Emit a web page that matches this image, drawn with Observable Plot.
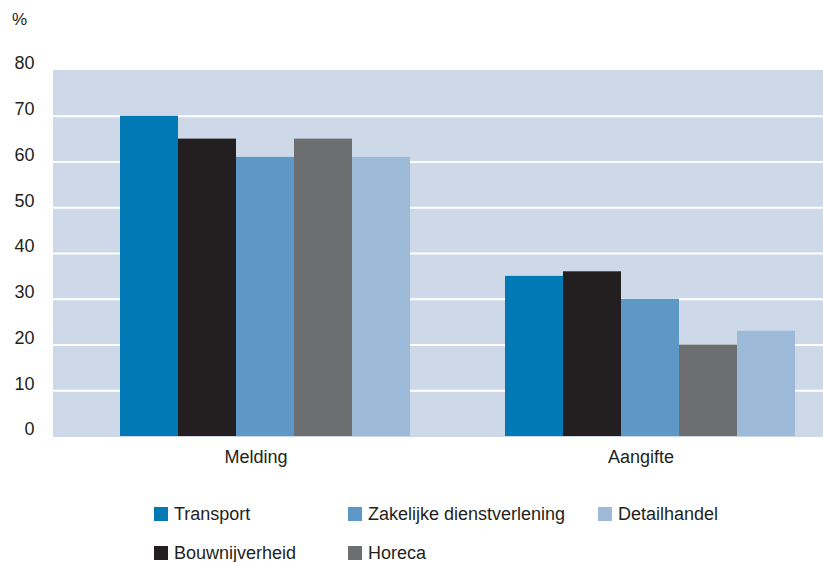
<!DOCTYPE html>
<html>
<head>
<meta charset="utf-8">
<script src="https://cdn.jsdelivr.net/npm/d3@7"></script>
<script src="https://cdn.jsdelivr.net/npm/@observablehq/plot@0.6"></script>
<style>
  html, body { margin: 0; padding: 0; background: #fff; }
  body { width: 823px; height: 562px; overflow: hidden; font-family: "Liberation Sans", Arial, sans-serif; color: #231f20; }
  #unit { height: 40px; position: relative; }
  #unit span { position: absolute; left: 12px; top: 10px; font-size: 17px; }
  #legend { position: relative; height: 82px; }
  .item { position: absolute; display: flex; align-items: center; font-size: 18px; line-height: 20px; }
  .sw { width: 14px; height: 14px; margin-right: 6px; }
</style>
</head>
<body>
<div id="unit"><span>%</span></div>
<div id="chart"></div>
<div id="legend"></div>
<script>
const groups = ["Melding", "Aangifte"];
const series = ["Transport", "Bouwnijverheid", "Zakelijke dienstverlening", "Horeca", "Detailhandel"];
const meldingValues = [70, 65, 61, 65, 61];
const aangifteValues = [35, 36, 30, 20, 23];
const colors = ["#0079b5", "#231f20", "#5e98c6", "#6d6e70", "#9dbad9"];
const yTicks = [0, 10, 20, 30, 40, 50, 60, 70, 80];
const legendOrder = [["Transport", "Bouwnijverheid"], ["Zakelijke dienstverlening", "Horeca"], ["Detailhandel"]];

const data = [];
series.forEach((s, i) => {
  data.push({group: "Melding", series: s, value: meldingValues[i]});
  data.push({group: "Aangifte", series: s, value: aangifteValues[i]});
});

const chart = Plot.plot({
  width: 823,
  height: 440,
  marginLeft: 53,
  marginRight: 0,
  marginTop: 30,
  marginBottom: 44,
  style: {fontFamily: "'Liberation Sans', Arial, sans-serif", fontSize: "18px", color: "#231f20", background: "transparent"},
  fx: {domain: groups, padding: 0, label: null},
  x: {domain: series, paddingInner: 0, paddingOuter: 0.796, align: 0.704, axis: null},
  y: {domain: [0, 80], axis: null},
  color: {domain: series, range: colors},
  marks: [
    Plot.frame({fill: "#cdd9e9", stroke: "#cdd9e9", shapeRendering: "crispEdges"}),
    Plot.gridY({ticks: yTicks.filter(d => d > 0 && d < 80), stroke: "white", strokeOpacity: 1, strokeWidth: 2}),
    Plot.barY(data, {fx: "group", x: "series", y: "value", fill: "series"}),
    Plot.axisY({ticks: yTicks, tickSize: 0, tickPadding: 19, dy: -7, fontSize: 18, label: null, fill: "#231f20"}),
    Plot.axisFx({anchor: "bottom", tickSize: 0, tickPadding: 14, dx: 10, fontSize: 18, label: null, fill: "#231f20"})
  ]
});
document.getElementById("chart").appendChild(chart);

const legend = document.getElementById("legend");
const colLeft = [154, 348, 598];
const rowTop = [24, 63];
legendOrder.forEach((col, c) => {
  col.forEach((name, r) => {
    const it = document.createElement("div");
    it.className = "item";
    it.style.left = colLeft[c] + "px";
    it.style.top = rowTop[r] + "px";
    const sw = document.createElement("div");
    sw.className = "sw";
    sw.style.background = colors[series.indexOf(name)];
    const t = document.createElement("span");
    t.textContent = name;
    it.appendChild(sw);
    it.appendChild(t);
    legend.appendChild(it);
  });
});
</script>
</body>
</html>
